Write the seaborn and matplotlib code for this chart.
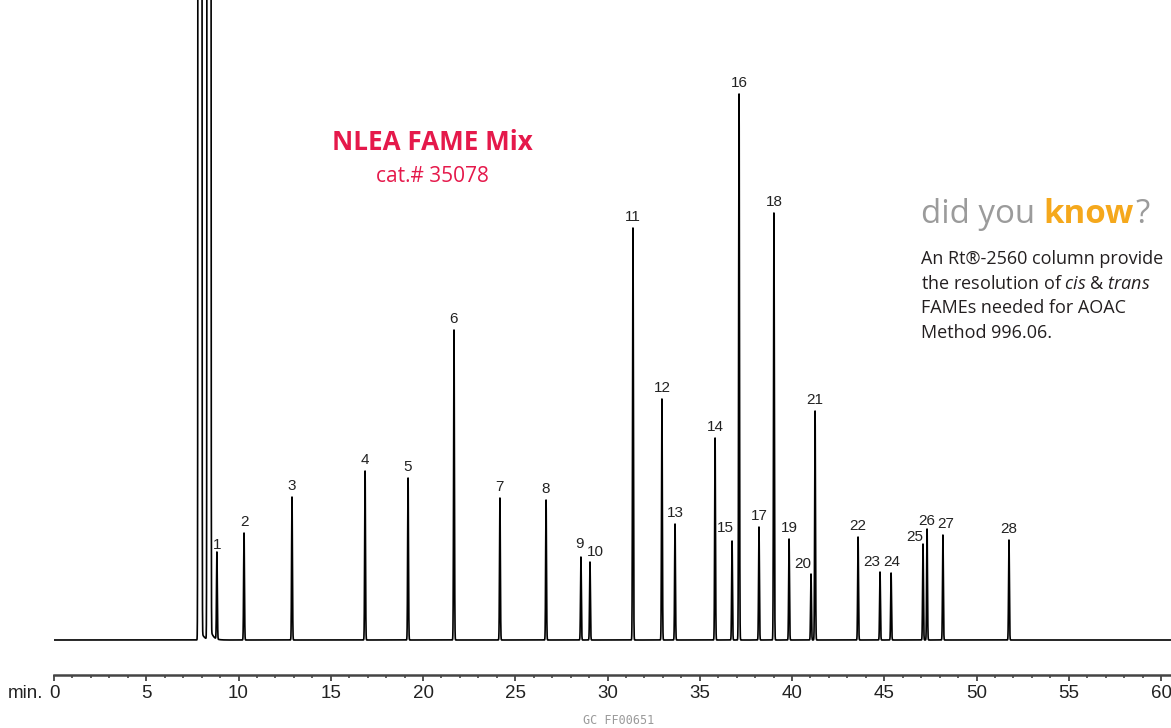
import numpy as np
import pandas as pd
import matplotlib
matplotlib.use("Agg")
import matplotlib.pyplot as plt
import seaborn as sns

# peaks: retention time (min) and height (detector units)
peak_ids = list(range(1, 29))
peak_times = [8.83, 10.30, 12.90, 16.86, 19.19, 21.68, 24.17, 26.67, 28.56, 29.05,
              31.38, 32.95, 33.66, 35.83, 36.75, 37.13, 38.21, 39.02, 39.84, 41.03,
              41.25, 43.58, 44.77, 45.37, 47.10, 47.32, 48.18, 51.76]
peak_heights = [87, 107, 143, 169, 162, 310, 142, 140, 83, 78,
                412, 241, 116, 202, 99, 546, 113, 427, 101, 66,
                229, 103, 68, 67, 96, 111, 105, 100]
# solvent front (goes way off scale)
solvent_times = [7.91, 8.40]
solvent_heights = [1.0e6, 1.0e6]
solvent_tails = [14, 18]

major_ticks = [0, 5, 10, 15, 20, 25, 30, 35, 40, 45, 50, 55, 60]
minor_ticks = [m for m in range(0, 61) if m % 5 != 0]

# label nudges (pixels) for the crowded peaks
label_dx = {9: -1, 10: 5, 15: -7, 20: -8, 23: -8, 24: 1, 25: -8, 26: 0, 27: 3}
label_dy = {1: 8, 9: 13, 10: 10, 15: 13, 20: 10, 23: 10, 25: 7, 26: 8}

W, H = 1171, 728
X_END = (W - 54) / 18.45

# build the trace
t = np.arange(0, X_END, 0.002)
sig = np.zeros_like(t)
for rt, h in zip(peak_times, peak_heights):
    sig += h * np.exp(-0.5 * ((t - rt) / 0.022) ** 2)
for rt, h, tail in zip(solvent_times, solvent_heights, solvent_tails):
    sig += h * np.exp(-0.5 * ((t - rt) / 0.03) ** 2)
    sig += np.where(t > rt, tail * np.exp(-np.clip(t - rt, 0, None) / 0.15), 0)
df = pd.DataFrame({"time": t, "signal": sig})

sns.set_style("white")
plt.rcParams["font.family"] = ["Liberation Sans", "DejaVu Sans"]
plt.rcParams["mathtext.fontset"] = "custom"
plt.rcParams["mathtext.rm"] = "Open Sans"
plt.rcParams["mathtext.it"] = "Open Sans:italic"

fig = plt.figure(figsize=(W / 100, H / 100), dpi=100)
ax = fig.add_axes([54 / W, (H - 675) / H, (W - 54) / W, 675 / H])
sns.lineplot(data=df, x="time", y="signal", ax=ax, color="black",
             linewidth=1.2, estimator=None)
ax.set_xlim(0, X_END)
ax.set_ylim(-35, 640)

for s in ["top", "left", "right"]:
    ax.spines[s].set_visible(False)
ax.spines["bottom"].set_color("#444444")
ax.spines["bottom"].set_linewidth(1.8)
ax.set_yticks([])
ax.set_xticks(major_ticks)
ax.set_xticks(minor_ticks, minor=True)
ax.set_xticklabels([str(v) for v in major_ticks], fontsize=13.5, color="#222222")
ax.tick_params(axis="x", which="both", bottom=True)
ax.tick_params(axis="x", which="major", direction="out", length=4, width=1.3,
               color="#444444", pad=3)
ax.tick_params(axis="x", which="minor", direction="out", length=2.5, width=1.2,
               color="#444444")
ax.set_xlabel("")
ax.set_ylabel("")

for pid, rt, h in zip(peak_ids, peak_times, peak_heights):
    ax.annotate(str(pid), xy=(rt, h),
                xytext=(label_dx.get(pid, 0), label_dy.get(pid, 11)),
                textcoords="offset pixels", ha="center", va="center",
                fontsize=11, color="#222222")

fig.text(26 / W, 1 - 693 / H, "min.", ha="center", va="center",
         fontsize=13.5, color="#222222")

# title block
crimson = "#E5194B"
fig.text(432 / W, 1 - 142 / H, "NLEA FAME Mix", ha="center", va="center",
         fontsize=18.7, fontweight="bold", color=crimson, family="Open Sans")
fig.text(432 / W, 1 - 177 / H, "cat.# 35078", ha="center", va="center",
         fontsize=15, color=crimson, family="Open Sans")

# "did you know?" box
fig.canvas.draw()
r = fig.canvas.get_renderer()
fs_big = 23.8
x0 = 921
t1 = fig.text(x0 / W, 1 - 223 / H, "did you", ha="left", va="baseline",
              fontsize=fs_big, color="#9B9B9B", family="Open Sans")
x1 = t1.get_window_extent(r).x1 + 0.26 * fs_big * 100 / 72
t2 = fig.text(x1 / W, 1 - 223 / H, "know", ha="left", va="baseline",
              fontsize=fs_big, fontweight="bold", color="#F5A81C", family="Open Sans")
x2 = t2.get_window_extent(r).x1 + 1
fig.text(x2 / W, 1 - 223 / H, "?", ha="left", va="baseline",
         fontsize=fs_big, color="#9B9B9B", family="Open Sans")

body = ["An Rt\u00ae-2560 column provide",
        r"the resolution of $\mathit{cis}$ & $\mathit{trans}$",
        "FAMEs needed for AOAC",
        "Method 996.06."]
for i, line in enumerate(body):
    fig.text(x0 / W, 1 - (264 + 24.6 * i) / H, line, ha="left", va="baseline",
             fontsize=13, color="#231F20", family="Open Sans")

fig.text(619 / W, 1 - 721 / H, "GC FF00651", ha="center", va="center",
         fontsize=8.5, color="#9A9A9A", family="DejaVu Sans Mono")

fig.savefig("out.png", dpi=100)
